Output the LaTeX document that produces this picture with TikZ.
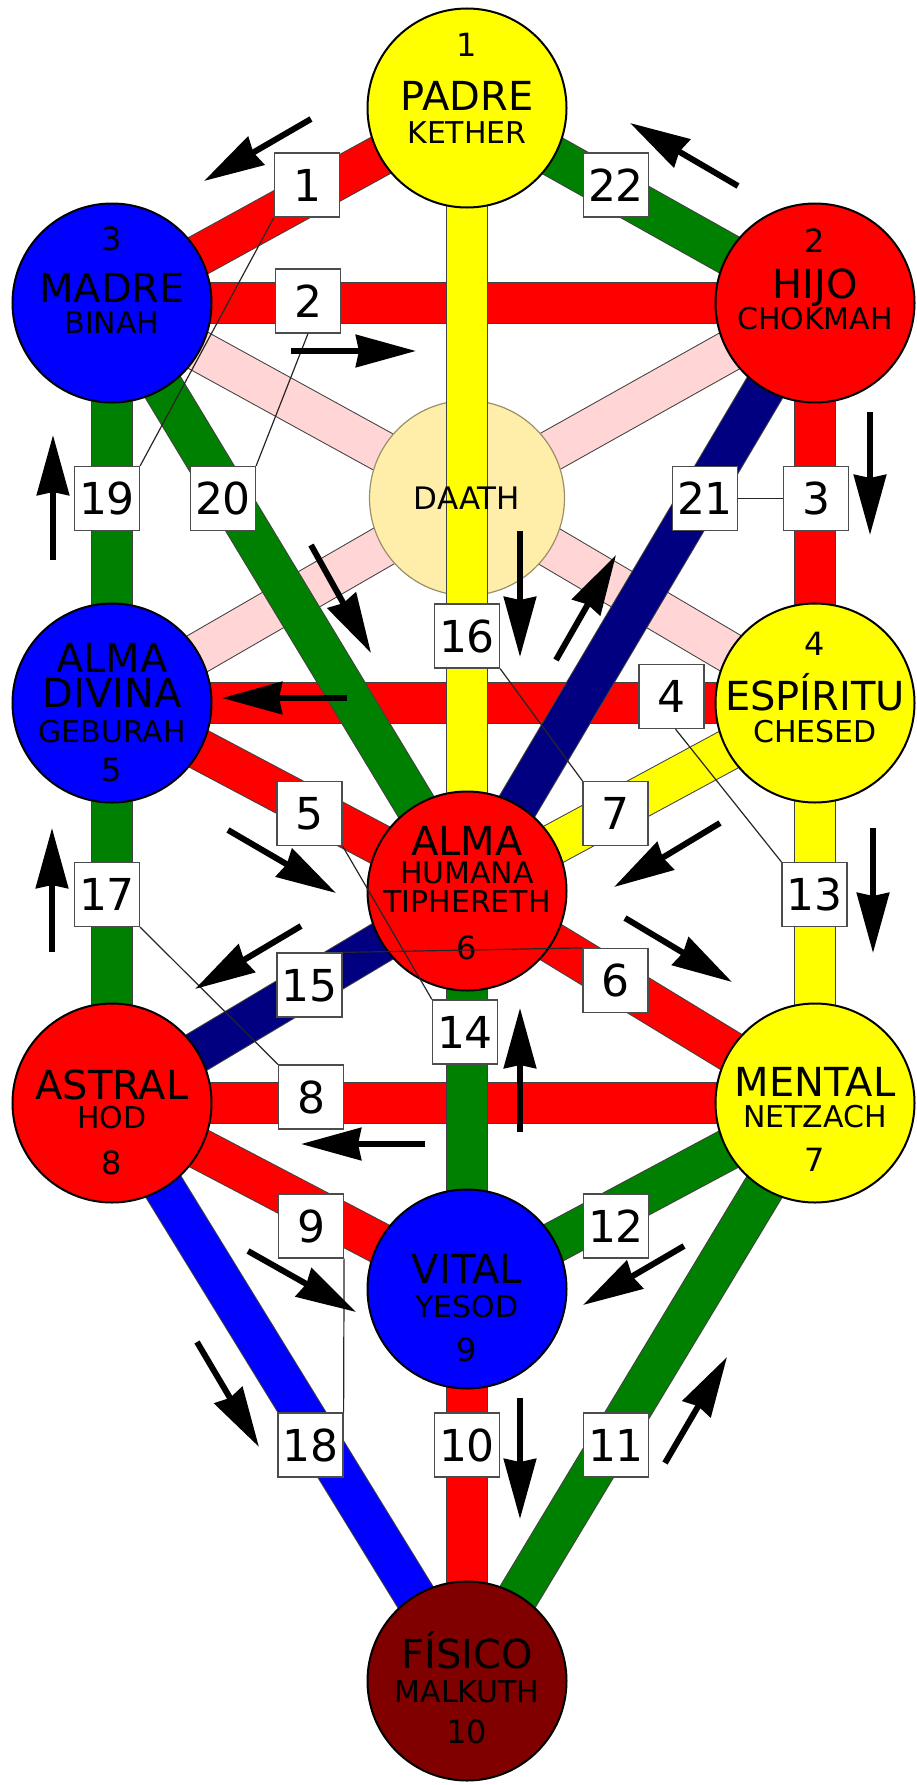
\documentclass[tikz,border=0pt]{standalone}
\usepackage{fontspec}
\setmainfont{DejaVu Sans}
\usetikzlibrary{arrows.meta}
\definecolor{cRed}{HTML}{FF0000}
\definecolor{cGreen}{HTML}{008000}
\definecolor{cNavy}{HTML}{000080}
\definecolor{cBlue}{HTML}{0000FF}
\definecolor{cYellow}{HTML}{FFFF00}
\definecolor{cPink}{HTML}{FFD5D5}
\definecolor{cDaath}{HTML}{FFEEAA}
\definecolor{cDaathLine}{HTML}{9A8F6A}
\definecolor{cMaroon}{HTML}{800000}
\begin{document}
\begin{tikzpicture}[x=1pt,y=-1pt,
  bar/.style={draw=black!75, line width=1pt, double distance=40pt},
  sefira/.style={circle, draw=black, line width=2pt, minimum size=199pt, inner sep=0pt},
  big/.style={inner sep=0pt, font=\fontsize{40}{40}\selectfont, text height=29.2pt, text depth=0pt},
  sm/.style={inner sep=0pt, font=\fontsize{30}{30}\selectfont, text height=21.9pt, text depth=0pt},
  num/.style={inner sep=0pt, font=\fontsize{32}{32}\selectfont, text height=23.3pt, text depth=0pt},
  lbl/.style={rectangle, draw=black!70, fill=white, line width=1.2pt, minimum width=65pt, minimum height=64pt, inner sep=0pt, font=\fontsize{44}{44}\selectfont, text height=32pt, text depth=0pt},
  leader/.style={draw=black!85, line width=1.2pt},
  flow/.style={draw=black, line width=6pt, -{Stealth[length=60pt,width=32pt,inset=3pt]}}
]
\useasboundingbox (0,0) rectangle (917,1785);

% centres
\coordinate (K) at (467,108);
\coordinate (B) at (112,303);
\coordinate (C) at (815,303);
\coordinate (D) at (467,498);
\coordinate (G) at (112,703);
\coordinate (Ch) at (815,703);
\coordinate (T) at (467,891);
\coordinate (H) at (112,1103);
\coordinate (N) at (815,1103);
\coordinate (Y) at (467,1289);
\coordinate (M) at (467,1681);

% pink paths to Daath
\draw[bar, double=cPink] (B) -- (D);
\draw[bar, double=cPink] (C) -- (D);
\draw[bar, double=cPink] (G) -- (D);
\draw[bar, double=cPink] (Ch) -- (D);
\node[sefira, fill=cDaath, draw=cDaathLine, line width=1.2pt, minimum size=195pt] (daath) at (D) {};

% horizontal paths
\draw[bar, double=cRed] (B) -- (C);
\draw[bar, double=cRed] (G) -- (Ch);
\draw[bar, double=cRed] (H) -- (N);

% vertical side paths
\draw[bar, double=cGreen] (B) -- (G);
\draw[bar, double=cGreen] (G) -- (H);
\draw[bar, double=cRed] (C) -- (Ch);
\draw[bar, double=cYellow] (Ch) -- (N);
\draw[bar, double=cGreen] (T) -- (Y);
\draw[bar, double=cRed] (Y) -- (M);

% diagonals
\draw[bar, double=cRed] (K) -- (B);
\draw[bar, double=cGreen] (K) -- (C);
\draw[bar, double=cGreen] (B) -- (T);
\draw[bar, double=cNavy] (C) -- (T);
\draw[bar, double=cRed] (G) -- (T);
\draw[bar, double=cYellow] (Ch) -- (T);
\draw[bar, double=cNavy] (T) -- (H);
\draw[bar, double=cRed] (T) -- (N);
\draw[bar, double=cRed] (H) -- (Y);
\draw[bar, double=cGreen] (N) -- (Y);
\draw[bar, double=cBlue] (H) -- (M);
\draw[bar, double=cGreen] (N) -- (M);
\draw[bar, double=cYellow] (K) -- (T);

% sefirot
\node[sefira, fill=cYellow] (kether) at (K) {};
\node[sefira, fill=cBlue] (binah) at (B) {};
\node[sefira, fill=cRed] (chokmah) at (C) {};
\node[sefira, fill=cBlue] (geburah) at (G) {};
\node[sefira, fill=cYellow] (chesed) at (Ch) {};
\node[sefira, fill=cRed] (tiphereth) at (T) {};
\node[sefira, fill=cRed] (hod) at (H) {};
\node[sefira, fill=cYellow] (netzach) at (N) {};
\node[sefira, fill=cBlue] (yesod) at (Y) {};
\node[sefira, fill=cMaroon] (malkuth) at (M) {};

% texts
\node[num] (k0) at ([yshift=63pt]K) {1};
\node[big] (k1) at ([yshift=12pt]K) {PADRE};
\node[sm]  (k2) at ([yshift=-25pt]K) {KETHER};

\node[num] (b0) at ([yshift=64pt]B) {3};
\node[big] (b1t) at ([yshift=15pt]B) {MADRE};
\node[sm]  (b2t) at ([yshift=-20pt]B) {BINAH};

\node[num] (c0) at ([yshift=62pt]C) {2};
\node[big] (c1) at ([yshift=19pt]C) {HIJO};
\node[sm]  (c2) at ([yshift=-16pt]C) {CHOKMAH};

\node[font=\fontsize{31}{31}\selectfont, inner sep=0pt, text height=22.6pt, text depth=0pt] (d1) at (D) {DAATH};

\node[big] (g1) at ([yshift=45pt]G) {ALMA};
\node[big] (g2) at ([yshift=10pt]G) {DIVINA};
\node[sm]  (g3) at ([yshift=-29pt]G) {GEBURAH};
\node[num] (g0) at ([yshift=-67pt]G) {5};

\node[num] (h0) at ([yshift=59pt]Ch) {4};
\node[big] (h1) at ([yshift=7pt]Ch) {ESPÍRITU};
\node[sm]  (h2) at ([yshift=-29pt]Ch) {CHESED};

\node[big] (t1) at ([yshift=50pt]T) {ALMA};
\node[sm]  (t2) at ([yshift=18pt]T) {HUMANA};
\node[sm]  (t3) at ([yshift=-11pt]T) {TIPHERETH};
\node[num] (t0) at ([yshift=-57pt]T) {6};

\node[big] (o1) at ([yshift=18pt]H) {ASTRAL};
\node[sm]  (o2) at ([yshift=-15pt]H) {HOD};
\node[num] (o0) at ([yshift=-60pt]H) {8};

\node[big] (n1) at ([yshift=21pt]N) {MENTAL};
\node[sm]  (n2) at ([yshift=-14pt]N) {NETZACH};
\node[num] (n0) at ([yshift=-57pt]N) {7};

\node[big] (y1) at ([yshift=20pt]Y) {VITAL};
\node[sm]  (y2) at ([yshift=-18pt]Y) {YESOD};
\node[num] (y0) at ([yshift=-61pt]Y) {9};

\node[big] (m1) at ([yshift=27pt]M) {FÍSICO};
\node[sm]  (m2) at ([yshift=-11pt]M) {MALKUTH};
\node[num] (m0) at ([yshift=-51pt]M) {10};

% path number boxes
\node[lbl] (p1) at (307,185) {1};
\node[lbl] (p22) at (616,185) {22};
\node[lbl] (p2) at (308,301) {2};
\node[lbl] (p19) at (107,498.5) {19};
\node[lbl] (p20) at (223,498.5) {20};
\node[lbl] (p21) at (705,498.5) {21};
\node[lbl] (p3) at (816,498.5) {3};
\node[lbl] (p16) at (467,636) {16};
\node[lbl] (p4) at (671.5,696.5) {4};
\node[lbl] (p5) at (309.5,813.5) {5};
\node[lbl] (p7) at (615.5,813.5) {7};
\node[lbl] (p17) at (107,894.5) {17};
\node[lbl] (p13) at (814.5,894.5) {13};
\node[lbl] (p15) at (309.5,985) {15};
\node[lbl] (p6) at (615.5,980.5) {6};
\node[lbl] (p14) at (465,1032) {14};
\node[lbl] (p8) at (311,1097) {8};
\node[lbl] (p9) at (311,1226) {9};
\node[lbl] (p12) at (616,1226) {12};
\node[lbl] (p18) at (310.5,1445) {18};
\node[lbl] (p10) at (467,1445) {10};
\node[lbl] (p11) at (616,1445) {11};

% leader lines
\draw[leader] (p1.south west) -- (p19.north east);
\draw[leader] (p2.south) -- (p20.north east);
\draw[leader] (p21.east) -- (p3.west);
\draw[leader] (p16.south east) -- (p7.north west);
\draw[leader] ([xshift=4pt]p4.south) -- (p13.north west);
\draw[leader] (p5.south east) -- (p14.north west);
\draw[leader] (p15.north east) -- (p6.north west);
\draw[leader] (p17.south east) -- (p8.north west);
\draw[leader] (p9.south east) -- (p18.north east);

% flow arrows
\coordinate (a1s) at (311,119);  \coordinate (a1e) at (204,181);
\coordinate (a2s) at (738,186);  \coordinate (a2e) at (630,123);
\coordinate (a3s) at (291,351);  \coordinate (a3e) at (416,351);
\coordinate (a4s) at (53,560);   \coordinate (a4e) at (53,435);
\coordinate (a5s) at (870,412);  \coordinate (a5e) at (870,535);
\coordinate (a6s) at (311,545);  \coordinate (a6e) at (371,653);
\coordinate (a7s) at (520,531);  \coordinate (a7e) at (520,657);
\coordinate (a8s) at (556,660);  \coordinate (a8e) at (616,555);
\coordinate (a9s) at (347,698);  \coordinate (a9e) at (222,698);
\coordinate (a10s) at (52,952);  \coordinate (a10e) at (52,828);
\coordinate (a11s) at (873,828); \coordinate (a11e) at (873,953);
\coordinate (a12s) at (228,830); \coordinate (a12e) at (336,893);
\coordinate (a13s) at (720,823); \coordinate (a13e) at (614,887);
\coordinate (a14s) at (301,926); \coordinate (a14e) at (195,989);
\coordinate (a15s) at (625,918); \coordinate (a15e) at (732,982);
\coordinate (a16s) at (520,1132); \coordinate (a16e) at (520,1008);
\coordinate (a17s) at (425,1144); \coordinate (a17e) at (301,1144);
\coordinate (a18s) at (248,1251); \coordinate (a18e) at (356,1312);
\coordinate (a19s) at (684,1246); \coordinate (a19e) at (583,1305);
\coordinate (a20s) at (197,1342); \coordinate (a20e) at (259,1447);
\coordinate (a21s) at (520,1398); \coordinate (a21e) at (520,1519);
\coordinate (a22s) at (665,1463); \coordinate (a22e) at (727,1357);
\foreach \i in {1,...,22} \draw[flow] (a\i s) -- (a\i e);
\end{tikzpicture}
\end{document}
